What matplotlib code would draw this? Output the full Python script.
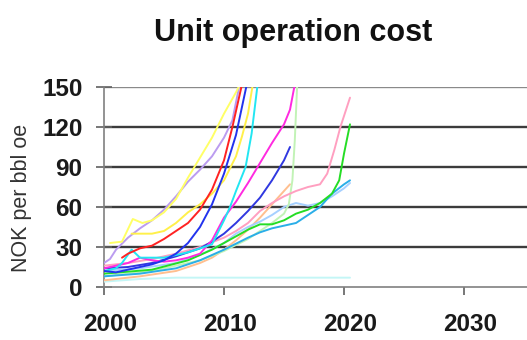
import matplotlib
matplotlib.use("Agg")
import matplotlib.pyplot as plt
import matplotlib.transforms as mtransforms

# Unit operation cost per field, NOK per bbl oe
yellow_a_years = [2000.5, 2001.5, 2002.4, 2003.2, 2004, 2005, 2006, 2007, 2008, 2009, 2010, 2011, 2011.5]
yellow_a_cost = [33, 34, 51, 48, 50, 56, 66, 82, 97, 112, 130, 146, 155]

yellow_b_years = [2002.3, 2003, 2004, 2005, 2006, 2007, 2008, 2009, 2010, 2011, 2011.5, 2012, 2012.4]
yellow_b_cost = [40, 40, 40, 42, 48, 56, 62, 70, 80, 98, 113, 130, 152]

lavender_years = [2000, 2000.5, 2001, 2002, 2003, 2004, 2005, 2006, 2007, 2008, 2009, 2010, 2010.7, 2011.3]
lavender_cost = [18, 21, 28, 37, 44, 50, 58, 68, 79, 88, 98, 112, 125, 152]

red_years = [2001.5, 2002, 2003, 2004, 2005, 2006, 2007, 2008, 2009, 2010, 2010.7, 2011.5]
red_cost = [22, 25, 29, 31, 36, 42, 48, 58, 73, 95, 120, 152]

blue_years = [2000, 2001, 2002, 2003, 2004, 2005, 2006, 2007, 2008, 2009, 2010, 2011, 2011.9]
blue_cost = [12, 11, 13, 15, 17, 20, 25, 33, 45, 62, 85, 114, 152]

cyan_years = [2000, 2001, 2001.5, 2002.3, 2003, 2004, 2005, 2006, 2007, 2008, 2009, 2010, 2010.5, 2011,
              2011.8, 2012.3, 2012.8]
cyan_cost = [12, 14, 18, 28, 22, 22, 22, 24, 26, 29, 32, 50, 60, 72, 90, 115, 152]

magenta_years = [2000, 2002, 2003, 2004, 2005, 2006, 2007, 2008, 2009, 2010, 2011, 2012, 2013, 2014,
                 2015, 2015.5, 2015.9]
magenta_cost = [14, 18, 22, 20, 19, 20, 22, 25, 35, 52, 64, 78, 93, 108, 122, 133, 152]

blue2_years = [2000, 2002, 2004, 2006, 2008, 2009, 2010, 2011, 2012, 2013, 2014, 2015, 2015.5]
blue2_cost = [14, 15, 18, 23, 29, 34, 40, 48, 57, 67, 80, 95, 105]

pink_years = [2000, 2002, 2004, 2006, 2008, 2010, 2011, 2012, 2013, 2014, 2015, 2016, 2017, 2018,
              2018.6, 2019.2, 2019.7, 2020.5]
pink_cost = [16, 18, 21, 25, 30, 37, 42, 48, 57, 63, 68, 72, 75, 77, 85, 103, 120, 142]

palegreen_years = [2000, 2004, 2008, 2010, 2012, 2013, 2014, 2015, 2015.4, 2015.7, 2015.9, 2016.1]
palegreen_cost = [8, 12, 20, 27, 36, 42, 48, 55, 62, 80, 110, 152]

green_years = [2000, 2004, 2007, 2009, 2010, 2011, 2012, 2013, 2014, 2015, 2016, 2017, 2018, 2019,
               2019.6, 2020, 2020.5]
green_cost = [10, 13, 20, 28, 33, 38, 43, 47, 47, 50, 55, 58, 63, 70, 80, 100, 122]

skyblue_years = [2000, 2003, 2006, 2008, 2010, 2012, 2013, 2014, 2015, 2016, 2017, 2018, 2019, 2020, 2020.5]
skyblue_cost = [8, 10, 14, 20, 28, 37, 41, 44, 46, 48, 54, 60, 70, 77, 80]

lightblue_years = [2000, 2003, 2006, 2008, 2010, 2011, 2012, 2013, 2014, 2015, 2016, 2017, 2018, 2019,
                   2020, 2020.5]
lightblue_cost = [12, 14, 18, 24, 33, 40, 45, 49, 54, 60, 63, 61, 63, 68, 74, 78]

peach_years = [2000, 2003, 2006, 2008, 2009, 2010, 2011, 2012, 2013, 2014, 2015, 2015.5]
peach_cost = [5, 8, 12, 18, 22, 28, 35, 43, 52, 62, 72, 77]

flat_years = [2000, 2003, 2006, 2010, 2015, 2020.5]
flat_cost = [4, 6, 7, 7, 7, 7]

series = [
    (flat_years, flat_cost, "#c4f6f6"),
    (peach_years, peach_cost, "#ffbf8f"),
    (lightblue_years, lightblue_cost, "#a6d0ff"),
    (palegreen_years, palegreen_cost, "#c2f3b6"),
    (skyblue_years, skyblue_cost, "#2aaee8"),
    (green_years, green_cost, "#25dd25"),
    (pink_years, pink_cost, "#ff9fc0"),
    (blue2_years, blue2_cost, "#3038e0"),
    (magenta_years, magenta_cost, "#ff2ae0"),
    (cyan_years, cyan_cost, "#22e6f2"),
    (lavender_years, lavender_cost, "#bb9cf0"),
    (yellow_a_years, yellow_a_cost, "#ffff66"),
    (yellow_b_years, yellow_b_cost, "#fff04a"),
    (red_years, red_cost, "#ff2222"),
    (blue_years, blue_cost, "#2233ee"),
]

y_ticks = [0, 30, 60, 90, 120, 150]
x_ticks = [2000, 2010, 2020, 2030]

font = ["Liberation Sans", "DejaVu Sans"]

fig = plt.figure(figsize=(5.27, 3.40), dpi=100)
ax = fig.add_axes([104 / 527, 1 - 287 / 340, 423 / 527, 200 / 340])

for yrs, cost, col in series:
    ax.plot(yrs, cost, color=col, lw=1.4, solid_capstyle="round", zorder=3)

ax.set_xlim(2000, 2000 + 423 / 12)
ax.set_ylim(0, 150)
ax.set_yticks(y_ticks)
ax.set_xticks(x_ticks)

for v in y_ticks[1:]:
    ax.axhline(v, color="#3c3c3c" if v < 150 else "#8a8a8a", lw=1.7, zorder=1)

for side in ["top", "right"]:
    ax.spines[side].set_visible(False)
for side in ["left", "bottom"]:
    ax.spines[side].set_color("#808080")
    ax.spines[side].set_linewidth(1.2)

ax.tick_params(axis="y", direction="inout", length=11, width=1.2, color="#606060", pad=10)
ax.tick_params(axis="x", direction="out", length=6, width=1.2, color="#606060", pad=13)

for lab in ax.get_yticklabels() + ax.get_xticklabels():
    lab.set_family(font)
    lab.set_fontweight("bold")
    lab.set_fontsize(17.5)
    lab.set_color("#1a1a1a")

shift = mtransforms.ScaledTranslation(6 / 100, 0, fig.dpi_scale_trans)
for lab in ax.get_xticklabels():
    lab.set_transform(lab.get_transform() + shift)

fig.text(293 / 527, 1 - 33 / 340, "Unit operation cost", ha="center", va="center",
         family=font, fontweight="bold", fontsize=22, color="#111111")
fig.text(22 / 527, 1 - 198 / 340, "NOK per bbl oe", ha="center", va="center", rotation=90,
         family=font, fontsize=15.5, color="#333333")

fig.savefig("out.png", dpi=100)
